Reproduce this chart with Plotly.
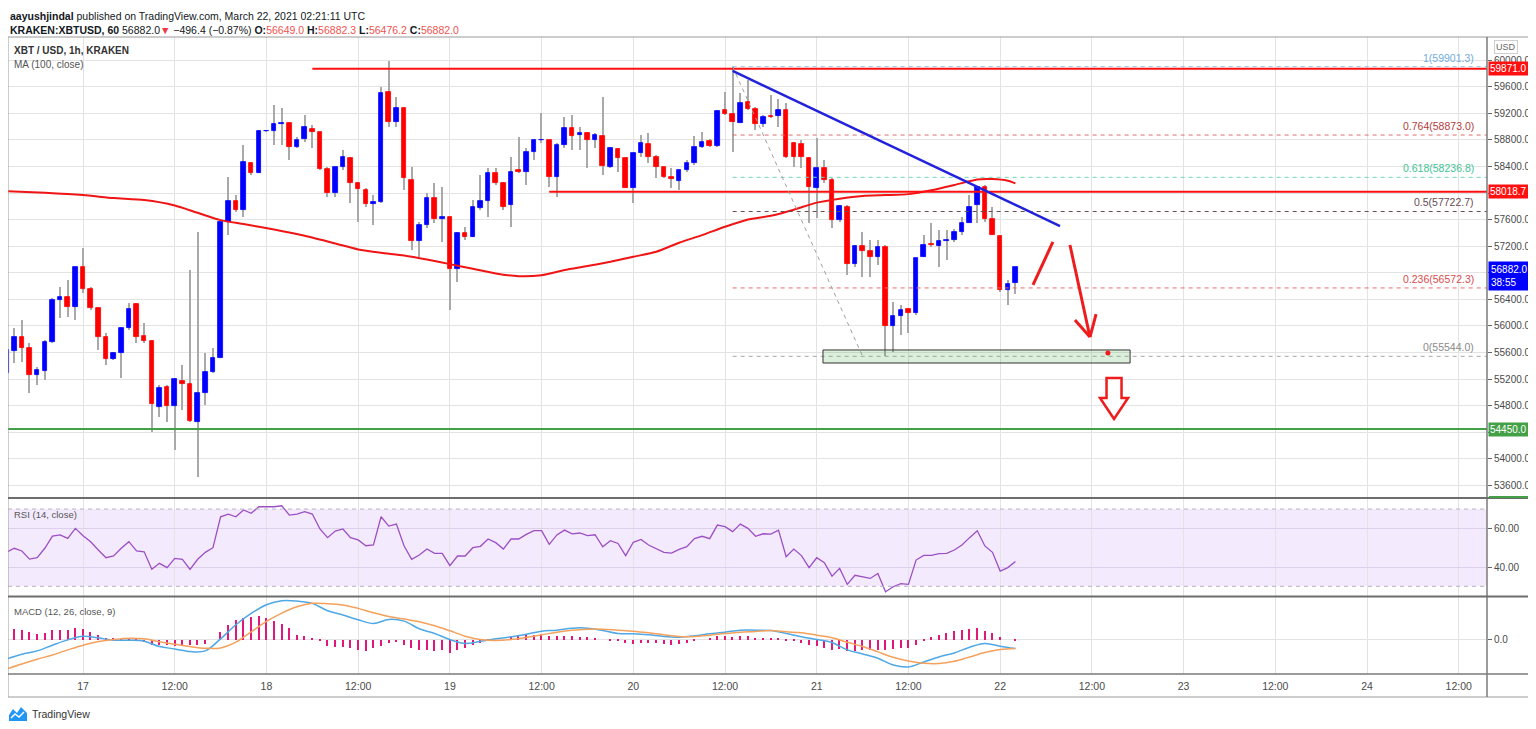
import pandas as pd
import plotly.graph_objects as go
from plotly.subplots import make_subplots

# ---------------- data ----------------
start_time = "2021-03-16 14:00"   # first hourly candle

opens = [55286,55622,55828,55662,55261,55321,55762,56389,56439,56289,
         56891,56550,56264,55838,55497,55597,55963,56324,55848,55772,
         54784,55075,54794,55171,55125,54559,54995,55311,55522,57568,
         57884,57743,58445,58295,58932,58937,59032,59057,58686,58806,
         58967,58917,58355,58004,58385,58531,58144,58044,57834,57869,
         59514,59062,59273,58195,57282,57518,57919,57603,57643,56851,
         57392,57342,57778,57879,58305,58144,57818,58345,58320,58621,
         58796,58796,58245,58721,58982,58867,58897,58796,58857,58395,
         58656,58531,58074,58596,58736,58546,58395,58245,58179,58345,
         58445,58696,58786,58706,59248,59188,59047,59373,59263,59037,
         59158,59158,59248,58746,58736,58521,58079,58370,58195,57593,
         57793,56931,57207,57131,57031,57192,56003,56153,56249,56189,
         57041,57227,57202,57277,57292,57417,57553,57818,58094,57603,
         57357,56540,56649]
highs = [55662,55963,56088,55737,55386,55787,56414,56590,56690,56891,
         57167,56590,56289,55888,55612,55988,56339,56339,56038,55787,
         55110,55110,55211,55411,56841,57417,55587,55662,57568,58245,
         57969,58721,58470,58947,58950,59323,59273,59072,58847,59173,
         59022,58922,58395,58395,58646,58546,58169,58069,57969,59599,
         59990,59448,59298,58395,57568,57994,58144,58094,57643,57417,
         57493,57894,58270,58370,58370,58169,58546,58847,58671,58806,
         59198,58796,58746,59147,59173,58997,58922,58897,59448,58696,
         58671,58546,58596,58872,58907,58571,58395,58370,58345,58496,
         58857,58922,58806,59248,59524,59901.3,59499,59699,59298,59173,
         59473,59408,59348,58771,58796,58546,58821,58496,58220,57818,
         57818,57217,57417,57292,57292,57217,56364,56314,56264,57016,
         57367,57553,57442,57442,57452,57643,57969,58094,58119,57793,
         57367,56690,56882.3]
lows = [55186,55437,55462,54985,55110,55186,55737,56113,56138,56088,
        56490,56239,55637,55411,55487,55211,55938,55737,55737,54408,
        54634,54559,54132,54734,54559,53731,54810,55286,55522,57367,
        57718,57643,58270,58295,58925,58721,58721,58496,58671,58771,
        58671,58345,57944,57944,58345,57845,57568,57793,57518,57845,
        58997,58997,58044,57141,57041,57467,57543,57267,56239,56665,
        57292,57342,57743,57643,58119,57743,57493,58295,58119,58496,
        58746,58094,57944,58671,58646,58646,58370,58671,58270,58370,
        58320,58069,57845,58546,58445,58220,58220,58069,58044,58320,
        58420,58671,58686,58696,59173,58621,59047,59248,58947,58997,
        59122,58997,58521,58395,58370,57543,57618,58144,57467,57568,
        56765,56891,56740,56740,56916,55544,55612,55863,55888,56164,
        57041,57192,56891,56991,57267,57367,57543,57543,57568,57367,
        56515,56314,56476.2]
closes = [55637,55838,55662,55261,55336,55762,56389,56439,56289,56891,
          56550,56264,55838,55497,55597,55963,56249,55828,55772,54820,
          55070,54794,55196,55120,54574,54995,55311,55522,57568,57884,
          57743,58470,58295,58932,58937,59032,59057,58686,58796,58987,
          58912,58355,57994,58385,58546,58144,58054,57834,57869,59499,
          59062,59273,58220,57282,57518,57919,57603,57633,56851,57392,
          57342,57793,57879,58305,58144,57793,58320,58315,58621,58796,
          58800,58235,58721,58982,58862,58897,58796,58872,58405,58671,
          58521,58079,58596,58746,58546,58395,58235,58205,58345,58445,
          58696,58771,58706,59233,59188,59062,59358,59258,59037,59147,
          59147,59248,58536,58546,58546,58084,58370,58195,57593,57808,
          56931,57207,57131,57031,57192,56003,56153,56239,56189,57016,
          57217,57212,57277,57292,57417,57553,57793,58094,57603,57367,
          56540,56630,56882]

# MA(100) read at selected candles
ma_idx = [0,5,10,14,18,22,25,28,31,35,39,43,46,49,52,55,58,61,64,67,70,73,76,79,82,
          85,88,91,94,97,100,103,106,109,112,115,118,121,124,127,129,131,132]
ma_vals = [58029,58004,57969,57924,57894,57813,57703,57593,57533,57452,57357,57242,57152,
           57101,57061,57001,56931,56861,56790,56750,56765,56841,56901,56966,57041,57116,
           57252,57367,57493,57603,57658,57750,57856,57916,57956,57969,57984,58041,58121,
           58205,58210,58185,58146]

rsi = [47.6,49.7,48.3,44.1,44.8,49.7,56.0,56.6,54.8,60.0,
       56.2,53.1,48.8,44.8,45.7,49.7,53.1,48.3,47.9,38.8,
       41.9,39.7,44.5,44.0,38.8,44.0,47.6,50.0,66.0,67.4,
       66.0,69.5,67.8,71.2,71.2,71.2,71.7,66.9,67.4,68.6,
       67.4,59.7,55.2,58.6,59.7,55.2,54.0,51.0,51.4,66.0,
       61.2,62.2,51.0,44.0,46.2,49.3,47.1,47.1,40.7,45.7,
       45.7,50.0,50.7,54.5,52.6,49.3,54.5,54.5,56.9,58.8,
       58.8,51.7,56.6,59.1,57.2,57.6,56.2,56.7,50.5,53.6,
       52.2,45.9,52.8,54.3,51.4,49.3,47.6,47.2,49.1,50.5,
       54.7,55.9,54.7,61.7,60.9,58.3,62.2,60.0,55.9,57.2,
       57.0,59.1,45.3,49.3,45.9,39.7,44.8,42.2,35.3,39.3,
       31.0,35.7,35.0,34.1,36.7,27.2,29.8,31.4,31.0,43.6,
       46.0,46.0,46.9,47.1,48.8,51.4,55.2,58.8,50.9,47.6,
       37.9,39.7,42.8]

# MACD lines read every second candle
macd_idx = list(range(0, 133, 2))
macd_vals = [-290,-220,-170,-85,-5,50,25,-10,-10,-25,-105,-140,-180,-170,10,220,390,520,
             580,575,540,430,365,295,240,300,275,160,90,0,-60,-25,10,40,80,125,140,170,
             170,135,90,85,70,45,35,55,85,110,140,140,135,90,40,0,-45,-155,-215,-280,
             -380,-410,-335,-260,-200,-115,-60,-100,-135]
signal_vals = [-440,-365,-295,-230,-155,-85,-30,0,20,10,-35,-70,-105,-130,-125,-40,115,270,
               395,490,540,535,515,465,400,345,305,265,205,130,50,0,-15,0,30,70,110,140,
               155,155,140,125,100,70,45,45,65,90,110,120,135,115,100,65,25,-40,-105,-185,
               -265,-320,-355,-360,-325,-260,-195,-150,-135]
hist_vals = [150,150,135,105,85,95,135,140,135,165,
             150,115,65,10,10,-15,-25,-25,-35,-75,
             -85,-75,-100,-90,-75,-85,-65,0,115,215,
             285,315,335,345,325,275,235,175,75,50,
             15,-25,-100,-110,-115,-125,-150,-175,-125,-90,
             -50,-35,-75,-125,-150,-150,-165,-150,-200,-150,
             -125,-75,-50,-25,0,0,35,50,65,75,
             85,50,50,50,50,40,35,25,0,-15,
             -25,-50,-65,-50,-50,-50,-65,-75,-65,-50,
             -25,0,25,50,50,40,50,50,25,15,
             15,10,-15,-25,-50,-85,-100,-125,-150,-140,
             -165,-175,-150,-150,-150,-160,-140,-125,-125,-75,
             -10,35,75,100,125,135,150,165,125,100,
             35,0,-25]

x_tick_times = ["2021-03-17 00:00","2021-03-17 12:00","2021-03-18 00:00","2021-03-18 12:00",
                "2021-03-19 00:00","2021-03-19 12:00","2021-03-20 00:00","2021-03-20 12:00",
                "2021-03-21 00:00","2021-03-21 12:00","2021-03-22 00:00","2021-03-22 12:00",
                "2021-03-23 00:00","2021-03-23 12:00","2021-03-24 00:00","2021-03-24 12:00"]
x_tick_labels = ["17","12:00","18","12:00","19","12:00","20","12:00",
                 "21","12:00","22","12:00","23","12:00","24","12:00"]
price_ticks = [53600,54000,54400,54800,55200,55600,56000,56400,56800,
               57200,57600,58000,58400,58800,59200,59600,60000]
# labels hidden behind the coloured price boxes are left blank
price_tick_labels = ["53600.0","54000.0","","54800.0","55200.0","55600.0","56000.0","56400.0","",
                     "57200.0","57600.0","","58400.0","58800.0","59200.0","59600.0","60000.0"]

fib_labels = ["1","0.764","0.618","0.5","0.236","0"]
fib_prices = [59901.3,58873.0,58236.8,57722.7,56572.3,55544.0]
fib_start = "2021-03-20 13:00"
fib_line_colors = ["#8ec0ea","#e36b6b","#6fd3b5","#6a4a55","#ec6a6a","#a8a8a8"]
fib_text_colors = ["#72aee0","#b23c3c","#3fc495","#6a4a55","#d94c4c","#8a8a8a"]

level_prices = [59871.0, 58018.7, 54450.0]
level_starts = ["2021-03-18 06:00", "2021-03-19 13:00", "2021-03-16 14:11"]
level_colors = ["#ff1010", "#ff1010", "#43a047"]

last_price = 56882.0
countdown = "38:55"

# ---------------- geometry helpers (layout only) ----------------
# page has an 8px body margin; figure is shifted accordingly
W, H = 1528, 721
OFF = 8
T0, T1 = "2021-03-16 14:11", "2021-03-24 15:42"
PL, PR, PT, PB = 8, 1487, 37, 674          # plot area in page pixels
def px_x(x):
    return (x - PL) / (PR - PL)
def px_y(y):
    return (PB - y) / (PB - PT)

FONT = "Liberation Sans, Arial, sans-serif"
GRID = "#e3e3e3"
UP, DOWN = "#0000ff", "#ff0000"
HOUR_MS = 3600 * 1000

times = pd.date_range(start_time, periods=len(opens), freq="h")

fig = make_subplots(rows=3, cols=1, shared_xaxes=True, vertical_spacing=0)

# wicks (thin bars), then bodies
fig.add_trace(go.Bar(x=times, base=lows, y=[h - l for h, l in zip(highs, lows)],
                     width=0.16 * HOUR_MS, marker=dict(color="#a9a9a9", line=dict(width=0)),
                     hoverinfo="skip"), row=1, col=1)
body_colors = [UP if c >= o else DOWN for o, c in zip(opens, closes)]
fig.add_trace(go.Bar(x=times, base=[min(o, c) for o, c in zip(opens, closes)],
                     y=[abs(c - o) for o, c in zip(opens, closes)],
                     width=0.6 * HOUR_MS,
                     marker=dict(color=body_colors, line=dict(color=body_colors, width=0.8)),
                     hoverinfo="skip"), row=1, col=1)
fig.add_trace(go.Scatter(x=[times[i] for i in ma_idx], y=ma_vals, mode="lines",
                         line=dict(color="#f01414", width=2, shape="spline", smoothing=0.6),
                         hoverinfo="skip"), row=1, col=1)

# RSI
fig.add_trace(go.Scatter(x=times, y=rsi, mode="lines",
                         line=dict(color="#9c4fc4", width=1.3), hoverinfo="skip"), row=2, col=1)

# MACD
fig.add_trace(go.Bar(x=times, y=hist_vals, width=0.18 * HOUR_MS,
                     marker=dict(color="#e0187a", line=dict(width=0)), hoverinfo="skip"),
              row=3, col=1)
fig.add_trace(go.Scatter(x=[times[i] for i in macd_idx], y=macd_vals, mode="lines",
                         line=dict(color="#4fa8e6", width=1.5, shape="spline"),
                         hoverinfo="skip"), row=3, col=1)
fig.add_trace(go.Scatter(x=[times[i] for i in macd_idx], y=signal_vals, mode="lines",
                         line=dict(color="#f5a15c", width=1.5, shape="spline"),
                         hoverinfo="skip"), row=3, col=1)

# ---------------- axes ----------------
TICKF = dict(size=10, color="#4a4a4a", family=FONT)
xcommon = dict(range=[T0, T1], tickvals=x_tick_times, ticktext=x_tick_labels,
               showgrid=True, gridcolor=GRID, gridwidth=1, zeroline=False,
               showline=False, ticks="")
ycommon = dict(side="right", ticks="outside", ticklen=4, tickcolor="#666",
               showgrid=True, zeroline=False, showline=False, tickfont=TICKF)
fig.update_layout(
    xaxis=dict(**xcommon, showticklabels=False, domain=[0, 1]),
    xaxis2=dict(**xcommon, showticklabels=False, domain=[0, 1]),
    xaxis3=dict(**xcommon, showticklabels=True, domain=[0, 1], ticklabelstandoff=4,
                tickfont=dict(size=10.5, color="#4a4a4a", family=FONT)),
    yaxis=dict(**ycommon, domain=[px_y(498), 1], range=[53412, 60348],
               tickvals=price_ticks, ticktext=price_tick_labels, gridcolor=GRID),
    yaxis2=dict(**ycommon, domain=[px_y(596), px_y(499)], range=[25, 75.2],
                tickvals=[40, 60], ticktext=["40.00", "60.00"], gridcolor="#dcd0ea"),
    yaxis3=dict(**ycommon, domain=[0, px_y(597)], range=[-515, 635],
                tickvals=[0], ticktext=["0.0"], gridcolor=GRID),
)

shapes = []
# RSI band
shapes.append(dict(type="rect", xref="paper", yref="y2", x0=0, x1=1, y0=30, y1=70,
                   fillcolor="rgba(160,90,235,0.12)", line=dict(width=0), layer="below"))
for lv in (30, 70):
    shapes.append(dict(type="line", xref="paper", yref="y2", x0=0, x1=1, y0=lv, y1=lv,
                       line=dict(color="#b9b3c0", width=1, dash="4px,4px")))

# horizontal levels
for p, s, c in zip(level_prices, level_starts, level_colors):
    shapes.append(dict(type="line", xref="x", yref="y", x0=s, x1=T1, y0=p, y1=p,
                       line=dict(color=c, width=2)))

# fib levels
for p, lc in zip(fib_prices, fib_line_colors):
    shapes.append(dict(type="line", xref="x", yref="y", x0=fib_start, x1=T1, y0=p, y1=p,
                       line=dict(color=lc, width=1, dash="4px,4px")))
shapes.append(dict(type="line", xref="x", yref="y", x0=fib_start, x1="2021-03-21 06:00",
                   y0=fib_prices[0], y1=fib_prices[-1],
                   line=dict(color="#a0a0a0", width=1, dash="4px,4px")))

# blue trendline
shapes.append(dict(type="line", xref="x", yref="y", x0="2021-03-20 13:00", y0=59837,
                   x1="2021-03-22 07:50", y1=57504, line=dict(color="#2222dd", width=2.5)))

# support zone
shapes.append(dict(type="rect", xref="x", yref="y", x0="2021-03-21 00:49", x1="2021-03-22 17:00",
                   y0=55443, y1=55639, fillcolor="rgba(76,175,80,0.2)",
                   line=dict(color="#333333", width=1)))
shapes.append(dict(type="circle", xref="x", yref="y", xsizemode="pixel", ysizemode="pixel",
                   xanchor="2021-03-22 14:06", yanchor=55594, x0=-2.5, x1=2.5, y0=-2.5, y1=2.5,
                   fillcolor="#ee1c1c", line=dict(width=0)))

# hand drawn red arrows
RED = "#ee1c1c"
shapes.append(dict(type="line", xref="x", yref="y", x0="2021-03-22 04:18", y0=56617,
                   x1="2021-03-22 06:54", y1=57264, line=dict(color=RED, width=3)))
shapes.append(dict(type="line", xref="x", yref="y", x0="2021-03-22 09:08", y0=57218,
                   x1="2021-03-22 11:45", y1=55834, line=dict(color=RED, width=3)))
shapes.append(dict(type="line", xref="x", yref="y", x0="2021-03-22 09:47", y0=56090,
                   x1="2021-03-22 11:45", y1=55834, line=dict(color=RED, width=3)))
shapes.append(dict(type="line", xref="x", yref="y", x0="2021-03-22 12:33", y0=56180,
                   x1="2021-03-22 11:45", y1=55834, line=dict(color=RED, width=3)))
shapes.append(dict(type="path", xref="x", yref="y", xsizemode="pixel", ysizemode="pixel",
                   xanchor="2021-03-22 14:54", yanchor=55217,
                   path="M-7.5,0 L7.5,0 L7.5,-20 L14,-20 L0,-41 L-14,-20 L-7.5,-20 Z",
                   fillcolor="white", line=dict(color=RED, width=2.5)))

# frame and pane separators
XR = px_x(1530)
YB = px_y(697)
shapes.append(dict(type="rect", xref="paper", yref="paper", x0=0, x1=XR, y0=YB, y1=1,
                   line=dict(color="#9a9a9a", width=1)))
shapes.append(dict(type="line", xref="paper", yref="paper", x0=1, x1=1, y0=YB, y1=1,
                   line=dict(color="#7a7a7a", width=1.5)))
for ysep in (498, 596.5):
    shapes.append(dict(type="line", xref="paper", yref="paper", x0=0, x1=XR,
                       y0=px_y(ysep), y1=px_y(ysep), line=dict(color="#6d6d6d", width=2)))
shapes.append(dict(type="line", xref="paper", yref="paper", x0=0, x1=XR, y0=0, y1=0,
                   line=dict(color="#7a7a7a", width=1.5)))
shapes.append(dict(type="line", xref="paper", yref="paper", x0=px_x(1489), x1=px_x(1528),
                   y0=px_y(497), y1=px_y(497), line=dict(color="#43a047", width=2)))
# TradingView logo
logo = [(9, 721), (9, 715), (13, 709), (17, 713), (21, 707), (27, 713), (27, 721)]
shapes.append(dict(type="path", xref="paper", yref="paper",
                   path="M" + " L".join(f"{px_x(a):.5f},{px_y(b):.5f}" for a, b in logo) + " Z",
                   fillcolor="#2196f3", line=dict(width=0)))
zig = [(11, 718), (15, 714), (19, 717), (24, 712)]
shapes.append(dict(type="path", xref="paper", yref="paper",
                   path="M" + " L".join(f"{px_x(a):.5f},{px_y(b):.5f}" for a, b in zig),
                   line=dict(color="white", width=1.5)))

fig.update_layout(shapes=shapes)

# ---------------- text ----------------
ann = []
def text(xpx, ypx, t, size=12, color="#131722", xanchor="left"):
    ann.append(dict(xref="paper", yref="paper", x=px_x(xpx), y=px_y(ypx), text=t,
                    showarrow=False, xanchor=xanchor, yanchor="middle",
                    font=dict(family=FONT, size=size, color=color)))

text(8, 16, "<b>aayushjindal</b> published on TradingView.com, March 22, 2021 02:21:11 UTC", 10.5)
RC = "#ef5350"
text(8, 30, "<b>KRAKEN:XBTUSD, 60</b> 56882.0<span style='color:#f23645'>▼</span> −496.4 (−0.87%) "
     f"<b>O:</b><span style='color:{RC}'>56649.0</span> <b>H:</b><span style='color:{RC}'>56882.3</span> "
     f"<b>L:</b><span style='color:{RC}'>56476.2</span> <b>C:</b><span style='color:{RC}'>56882.0</span>",
     10.5)
text(12, 50, "<b>XBT / USD, 1h, KRAKEN</b>", 10, "#333333")
text(12, 65, "MA (100, close)", 10, "#555555")
text(12, 514, "RSI (14, close)", 9.5, "#555555")
text(12, 611, "MACD (12, 26, close, 9)", 9.5, "#555555")
text(30, 714, "TradingView", 10.5, "#333333")

for lab, p, tc in zip(fib_labels, fib_prices, fib_text_colors):
    ann.append(dict(xref="paper", yref="y", x=px_x(1476), y=p, yshift=1,
                    text=f"{lab}({p:.1f})", showarrow=False, xanchor="right", yanchor="bottom",
                    font=dict(family=FONT, size=10.5, color=tc)))

# axis price boxes
for p, c in zip(level_prices, level_colors):
    ann.append(dict(xref="paper", yref="y", x=1, xshift=1, y=p, text=f"{p:.1f}",
                    showarrow=False, xanchor="left", yanchor="middle", bgcolor=c,
                    borderpad=1, font=dict(family=FONT, size=10, color="white")))
ann.append(dict(xref="paper", yref="y", x=1, xshift=1, y=last_price, yshift=6,
                text=f"{last_price:.1f}<br>{countdown}", showarrow=False, xanchor="left",
                yanchor="top", align="left", bgcolor="#0000ff", borderpad=2,
                font=dict(family=FONT, size=10, color="white")))
ann.append(dict(xref="paper", yref="paper", x=px_x(1506), y=px_y(47), text="USD",
                showarrow=False, xanchor="center", yanchor="middle", bordercolor="#cfcfcf",
                borderwidth=1, borderpad=1, bgcolor="white",
                font=dict(family=FONT, size=9, color="#666666")))

fig.update_layout(
    annotations=ann,
    width=W, height=H,
    margin=dict(l=PL - OFF, r=W - (PR - OFF), t=PT - OFF, b=H - (PB - OFF)),
    paper_bgcolor="white", plot_bgcolor="white",
    showlegend=False, barmode="overlay", bargap=0,
    font=dict(family=FONT, size=11, color="#4a4a4a"),
)

fig.write_html("out.html")
